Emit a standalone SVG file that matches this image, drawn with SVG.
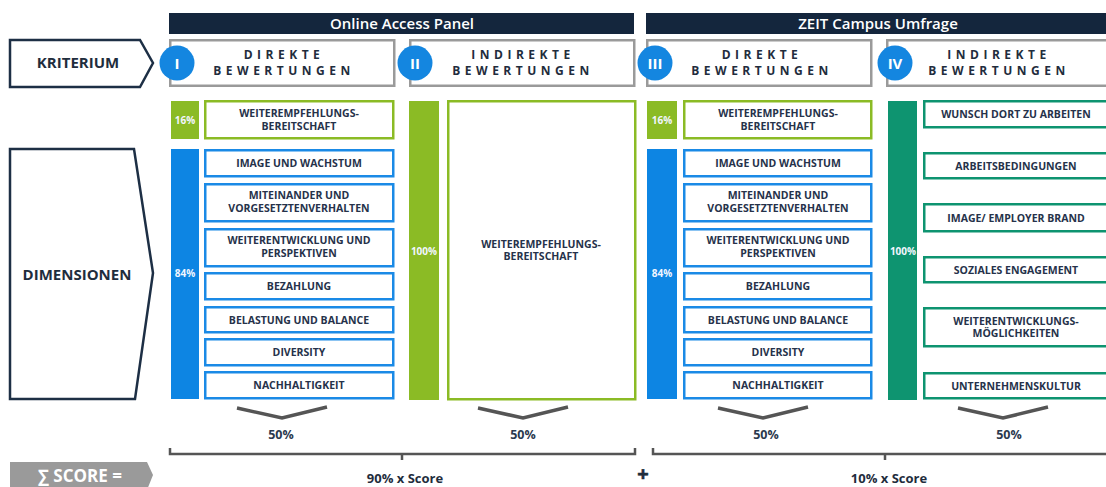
<svg xmlns="http://www.w3.org/2000/svg" width="1106" height="487" viewBox="0 0 1106 487">
<style>
text{font-family:"Open Sans","Liberation Sans",sans-serif;font-weight:700;text-anchor:middle}
.hb{fill:#14263d}
.ht{fill:#fff;font-size:15px;font-weight:600}
.cb{fill:#fff;stroke:#9a9a9a;stroke-width:2.5}
.ct{fill:#1f2d3d;font-size:12px;letter-spacing:4.5px}
.circ{fill:#1486e0}
.cn{fill:#fff;font-size:15px}
.lab{fill:#fff;stroke:#1d2f45;stroke-width:2.5}
.lt{fill:#1f2d3d;font-size:15px}
.gbar{fill:#8bbb25}
.bbar{fill:#0d85e3}
.tbar{fill:#0e9470}
.gbox{fill:#fff;stroke:#8bbb25;stroke-width:2.5}
.bbox{fill:#fff;stroke:#1a8ae6;stroke-width:2.5}
.tbox{fill:#fff;stroke:#0e9470;stroke-width:2.5}
.bt{fill:#26324a;font-size:10.5px}
.pt{fill:#f2f6ff;font-size:10px}
.chev{fill:none;stroke:#555;stroke-width:3.5}
.brk{fill:none;stroke:#555;stroke-width:2.5}
.pc{fill:#2b3a4e;font-size:12.5px}
.sc{fill:#1f2d3d;font-size:13px}
</style>

<g id="header-online">
<rect class="hb" x="169" y="13" width="465" height="21"/>
<text class="ht" x="402" y="29">Online Access Panel</text>
</g>
<g id="header-zeit">
<rect class="hb" x="646" y="13" width="462" height="21"/>
<text class="ht" x="878" y="29">ZEIT Campus Umfrage</text>
</g>

<g id="kriterium">
<polygon class="lab" points="10,40 140,40 153,63 140,87 10,87"/>
<text class="lt" x="78" y="68">KRITERIUM</text>
</g>
<g id="dimensionen">
<polygon class="lab" points="10,149 134,149 153,273 135,399 10,399"/>
<text class="lt" x="77" y="280">DIMENSIONEN</text>
</g>

<g id="col-head-1">
<rect class="cb" x="170.25" y="40.25" width="224" height="45.5"/>
<text class="ct" x="284" y="59">DIREKTE</text>
<text class="ct" x="284" y="75">BEWERTUNGEN</text>
<circle class="circ" cx="177" cy="63" r="17.5"/>
<text class="cn" x="177" y="69">I</text>
</g>
<g id="col-head-2">
<rect class="cb" x="410.25" y="40.25" width="224" height="45.5"/>
<text class="ct" x="523" y="59">INDIREKTE</text>
<text class="ct" x="523" y="75">BEWERTUNGEN</text>
<circle class="circ" cx="415" cy="63" r="17.5"/>
<text class="cn" x="415" y="69">II</text>
</g>
<g id="col-head-3">
<rect class="cb" x="647.25" y="40.25" width="224" height="45.5"/>
<text class="ct" x="762" y="59">DIREKTE</text>
<text class="ct" x="762" y="75">BEWERTUNGEN</text>
<circle class="circ" cx="655" cy="63" r="17.5"/>
<text class="cn" x="655" y="69">III</text>
</g>
<g id="col-head-4">
<rect class="cb" x="887.25" y="40.25" width="228" height="45.5"/>
<text class="ct" x="999" y="59">INDIREKTE</text>
<text class="ct" x="999" y="75">BEWERTUNGEN</text>
<circle class="circ" cx="895" cy="63" r="17.5"/>
<text class="cn" x="895" y="69">IV</text>
</g>

<!-- Column I -->
<g id="c1-weight16">
<rect class="gbar" x="171" y="101" width="28" height="38"/>
<text class="pt" x="185" y="124">16%</text>
</g>
<g id="c1-weiterempf">
<rect class="gbox" x="205.25" y="101.25" width="188" height="37"/>
<text class="bt" x="299" y="117">WEITEREMPFEHLUNGS-</text>
<text class="bt" x="299" y="130">BEREITSCHAFT</text>
</g>
<g id="c1-weight84">
<rect class="bbar" x="171" y="149" width="28" height="250"/>
<text class="pt" x="185" y="277">84%</text>
</g>
<g id="c1-image"><rect class="bbox" x="205.25" y="150.25" width="188" height="26"/><text class="bt" x="299" y="167">IMAGE UND WACHSTUM</text></g>
<g id="c1-miteinander"><rect class="bbox" x="205.25" y="184.25" width="188" height="37"/><text class="bt" x="299" y="199">MITEINANDER UND</text><text class="bt" x="299" y="212">VORGESETZTENVERHALTEN</text></g>
<g id="c1-weiterentw"><rect class="bbox" x="205.25" y="229.25" width="188" height="37"/><text class="bt" x="299" y="244">WEITERENTWICKLUNG UND</text><text class="bt" x="299" y="257">PERSPEKTIVEN</text></g>
<g id="c1-bezahlung"><rect class="bbox" x="205.25" y="273.25" width="188" height="26"/><text class="bt" x="299" y="290">BEZAHLUNG</text></g>
<g id="c1-belastung"><rect class="bbox" x="205.25" y="307.25" width="188" height="25"/><text class="bt" x="299" y="323.5">BELASTUNG UND BALANCE</text></g>
<g id="c1-diversity"><rect class="bbox" x="205.25" y="339.25" width="188" height="26"/><text class="bt" x="299" y="356">DIVERSITY</text></g>
<g id="c1-nachhalt"><rect class="bbox" x="205.25" y="372.25" width="188" height="26"/><text class="bt" x="299" y="389">NACHHALTIGKEIT</text></g>

<!-- Column II -->
<g id="c2-weight100">
<rect class="gbar" x="409" y="101" width="30" height="299"/>
<text class="pt" x="424" y="255">100%</text>
</g>
<g id="c2-weiterempf">
<rect class="gbox" x="448.25" y="101.25" width="187" height="298"/>
<text class="bt" x="541" y="248">WEITEREMPFEHLUNGS-</text>
<text class="bt" x="541" y="260">BEREITSCHAFT</text>
</g>

<!-- Column III -->
<g id="c3-weight16">
<rect class="gbar" x="647" y="101" width="30" height="38"/>
<text class="pt" x="662" y="124">16%</text>
</g>
<g id="c3-weiterempf">
<rect class="gbox" x="684.25" y="101.25" width="187" height="37"/>
<text class="bt" x="778" y="117">WEITEREMPFEHLUNGS-</text>
<text class="bt" x="778" y="130">BEREITSCHAFT</text>
</g>
<g id="c3-weight84">
<rect class="bbar" x="647" y="149" width="30" height="250"/>
<text class="pt" x="662" y="277">84%</text>
</g>
<g id="c3-image"><rect class="bbox" x="684.25" y="150.25" width="187" height="26"/><text class="bt" x="778" y="167">IMAGE UND WACHSTUM</text></g>
<g id="c3-miteinander"><rect class="bbox" x="684.25" y="184.25" width="187" height="37"/><text class="bt" x="778" y="199">MITEINANDER UND</text><text class="bt" x="778" y="212">VORGESETZTENVERHALTEN</text></g>
<g id="c3-weiterentw"><rect class="bbox" x="684.25" y="229.25" width="187" height="37"/><text class="bt" x="778" y="244">WEITERENTWICKLUNG UND</text><text class="bt" x="778" y="257">PERSPEKTIVEN</text></g>
<g id="c3-bezahlung"><rect class="bbox" x="684.25" y="273.25" width="187" height="26"/><text class="bt" x="778" y="290">BEZAHLUNG</text></g>
<g id="c3-belastung"><rect class="bbox" x="684.25" y="307.25" width="187" height="25"/><text class="bt" x="778" y="323.5">BELASTUNG UND BALANCE</text></g>
<g id="c3-diversity"><rect class="bbox" x="684.25" y="339.25" width="187" height="26"/><text class="bt" x="778" y="356">DIVERSITY</text></g>
<g id="c3-nachhalt"><rect class="bbox" x="684.25" y="372.25" width="187" height="26"/><text class="bt" x="778" y="389">NACHHALTIGKEIT</text></g>

<!-- Column IV -->
<g id="c4-weight100">
<rect class="tbar" x="888" y="101" width="29" height="299"/>
<text class="pt" x="903" y="255">100%</text>
</g>
<g id="c4-wunsch"><rect class="tbox" x="924.25" y="101.25" width="190" height="26"/><text class="bt" x="1016" y="118">WUNSCH DORT ZU ARBEITEN</text></g>
<g id="c4-arbeitsbed"><rect class="tbox" x="924.25" y="153.25" width="190" height="25"/><text class="bt" x="1016" y="169.5">ARBEITSBEDINGUNGEN</text></g>
<g id="c4-image"><rect class="tbox" x="924.25" y="204.25" width="190" height="27"/><text class="bt" x="1016" y="221.5">IMAGE/ EMPLOYER BRAND</text></g>
<g id="c4-soziales"><rect class="tbox" x="924.25" y="257.25" width="190" height="25"/><text class="bt" x="1016" y="273.5">SOZIALES ENGAGEMENT</text></g>
<g id="c4-weiterentw"><rect class="tbox" x="924.25" y="308.25" width="190" height="38"/><text class="bt" x="1016" y="325">WEITERENTWICKLUNGS-</text><text class="bt" x="1016" y="337">MÖGLICHKEITEN</text></g>
<g id="c4-kultur"><rect class="tbox" x="924.25" y="373.25" width="190" height="25"/><text class="bt" x="1016" y="389.5">UNTERNEHMENSKULTUR</text></g>

<g id="connectors">
<polyline class="chev" points="237,408 282,418 327,407"/>
<polyline class="chev" points="478,408 523,418 568,407"/>
<polyline class="chev" points="718,408 763,418 808,407"/>
<polyline class="chev" points="958,408 1003,418 1048,407"/>
<path class="brk" d="M170,448 V454 H635 V448 M402,454 V460"/>
<path class="brk" d="M653,448 V454 H1110 M885,454 V460"/>
</g>

<g id="percents">
<text class="pc" x="281" y="439">50%</text>
<text class="pc" x="523" y="439">50%</text>
<text class="pc" x="766" y="439">50%</text>
<text class="pc" x="1009" y="439">50%</text>
</g>

<g id="score">
<polygon fill="#9a9a9a" points="10,462 147,462 153,475 147,490 10,490"/>
<text x="80" y="482" style="fill:#fff;font-size:17px">∑ SCORE =</text>
</g>
<g id="score-terms">
<text class="sc" x="405" y="483">90% x Score</text>
<text x="643" y="481" style="fill:#1f2d3d;font-size:20px;stroke:#1f2d3d;stroke-width:0.6">+</text>
<text class="sc" x="889" y="483">10% x Score</text>
</g>
</svg>
